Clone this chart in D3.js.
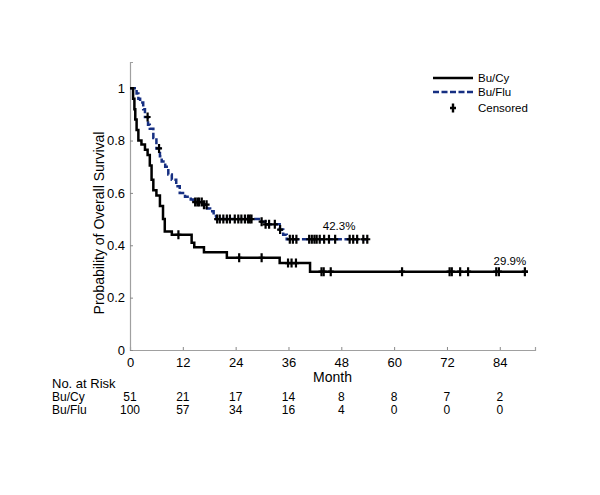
<!DOCTYPE html>
<html>
<head>
<meta charset="utf-8">
<script src="https://cdnjs.cloudflare.com/ajax/libs/d3/7.8.5/d3.min.js"></script>
<style>
  body { margin: 0; background: #fff; }
  #chart { width: 600px; height: 495px; }
  text { font-family: "Liberation Sans", Arial, sans-serif; fill: #000; }
</style>
</head>
<body>
<div id="chart"></div>
<script>
// Bu/Cy step curve (month, survival after the step)
const cyTimes = [0, 0.7, 1.0, 1.2, 1.5, 1.9, 2.6, 3.4, 4.0, 4.5, 4.9, 5.3, 6.0, 6.8, 7.5, 7.9, 9.5, 14.0, 14.6, 16.8, 22.0, 34.0, 40.9];
const cySurv  = [1.0, 0.96, 0.92, 0.88, 0.84, 0.80, 0.785, 0.765, 0.745, 0.705, 0.65, 0.61, 0.59, 0.55, 0.50, 0.453, 0.44, 0.41, 0.392, 0.373, 0.352, 0.332, 0.299];
const cyEnd = 90.4;
const cyCensor = [11.0, 24.8, 29.9, 35.9, 36.7, 37.7, 43.5, 44.0, 45.6, 61.8, 72.6, 73.1, 75.0, 76.8, 83.2, 83.8, 89.7];

// Bu/Flu step curve
const fluTimes = [0, 1.5, 1.9, 2.3, 3.0, 3.4, 4.1, 4.5, 5.3, 6.0, 6.8, 7.2, 8.0, 8.7, 9.5, 10.5, 11.3, 12.5, 13.8, 14.3, 16.5, 17.5, 18.2, 19.0, 19.6, 29.3, 30.8, 34.0, 34.8, 35.6];
const fluSurv  = [1.0, 0.98, 0.96, 0.945, 0.92, 0.89, 0.86, 0.845, 0.81, 0.77, 0.74, 0.72, 0.70, 0.67, 0.65, 0.625, 0.60, 0.585, 0.575, 0.565, 0.555, 0.54, 0.53, 0.512, 0.50, 0.49, 0.48, 0.46, 0.44, 0.423];
const fluEnd = 54.1;
const fluCensor = [4.0, 6.6, 14.8, 15.3, 15.7, 16.3, 16.8, 17.4, 19.8, 20.4, 21.2, 22.0, 22.7, 23.8, 24.6, 25.3, 26.1, 26.8, 27.2, 27.6, 29.9, 30.8, 31.6, 32.9, 34.1, 36.3, 37.0, 37.8, 40.7, 41.3, 41.9, 42.4, 43.1, 44.1, 45.2, 46.6, 49.9, 50.7, 51.6, 53.0, 53.9];

// number at risk table
const riskMonths = [0, 12, 24, 36, 48, 60, 72, 84];
const cyRisk  = [51, 21, 17, 14, 8, 8, 7, 2];
const fluRisk = [100, 57, 34, 16, 4, 0, 0, 0];

const yTicks = [0, 0.2, 0.4, 0.6, 0.8, 1];

const margin = { left: 130, top: 62, right: 65, bottom: 145 };
const width = 600, height = 495;
const innerW = width - margin.left - margin.right;   // 405
const innerH = height - margin.top - margin.bottom;  // 288

const svg = d3.select("#chart").append("svg")
  .attr("width", width).attr("height", height);
svg.append("rect").attr("width", width).attr("height", height).attr("fill", "#fff");

const g = svg.append("g").attr("transform", `translate(${margin.left},${margin.top})`);

const x = d3.scaleLinear().domain([0, 92]).range([0, innerW]);
const y = d3.scaleLinear().domain([0, 1.1]).range([innerH, 0]);

// axes
const xAxis = d3.axisBottom(x).tickValues(riskMonths).tickSize(-3).tickPadding(6);
const yAxis = d3.axisLeft(y).tickValues(yTicks).tickSize(-3).tickPadding(5).tickFormat(d => String(d));

const gx = g.append("g").attr("transform", `translate(0,${innerH})`).call(xAxis);
const gy = g.append("g").call(yAxis);
[gx, gy].forEach(a => {
  a.select(".domain").attr("stroke", "#a0a0a0").attr("stroke-width", 1.2);
  a.selectAll(".tick line").attr("stroke", "#888");
  a.selectAll(".tick text").attr("font-size", 13).attr("fill", "#000")
    .style("font-family", '"Liberation Sans", Arial, sans-serif');
});
gx.selectAll(".tick text").attr("dy", "0.85em");

// axis titles
g.append("text")
  .attr("x", x(46)).attr("y", innerH + 32)
  .attr("text-anchor", "middle").attr("font-size", 14)
  .text("Month");
g.append("text")
  .attr("transform", `translate(${99 - margin.left},${223 - margin.top}) rotate(-90)`)
  .attr("text-anchor", "middle").attr("dy", "0.35em").attr("font-size", 14)
  .text("Probability of Overall Survival");

// curves
function stepPoints(times, surv, end) {
  const pts = times.map((t, i) => [t, surv[i]]);
  pts.push([end, surv[surv.length - 1]]);
  return pts;
}
function survAt(times, surv, t) {
  let s = surv[0];
  for (let i = 0; i < times.length; i++) if (times[i] <= t) s = surv[i];
  return s;
}
const line = d3.line().x(d => x(d[0])).y(d => y(d[1])).curve(d3.curveStepAfter);

g.append("path")
  .datum(stepPoints(fluTimes, fluSurv, fluEnd))
  .attr("d", line).attr("fill", "none")
  .attr("stroke", "#162f82").attr("stroke-width", 2.5)
  .attr("stroke-dasharray", "6,2.5");

g.append("path")
  .datum(stepPoints(cyTimes, cySurv, cyEnd))
  .attr("d", line).attr("fill", "none")
  .attr("stroke", "#000").attr("stroke-width", 2.5);

const plus = "M0,-4.5V4.5M-3,0H3";
function drawCensors(list, times, surv) {
  g.append("g").selectAll("path")
    .data(list)
    .join("path")
    .attr("transform", d => `translate(${x(d)},${y(survAt(times, surv, d))})`)
    .attr("d", plus)
    .attr("stroke", "#000").attr("stroke-width", 2.2).attr("fill", "none");
}
drawCensors(fluCensor, fluTimes, fluSurv);
drawCensors(cyCensor, cyTimes, cySurv);

// end labels
g.append("text").attr("x", x(47.5)).attr("y", y(0.457)).attr("text-anchor", "middle")
  .attr("font-size", 11.5).text("42.3%");
g.append("text").attr("x", x(86.3)).attr("y", y(0.325)).attr("text-anchor", "middle")
  .attr("font-size", 11.5).text("29.9%");

// legend
const leg = svg.append("g").attr("transform", "translate(433,78)");
const legItems = [
  { name: "Bu/Cy", stroke: "#000", dash: null },
  { name: "Bu/Flu", stroke: "#162f82", dash: "6,2.5" }
];
legItems.forEach((d, i) => {
  leg.append("line").attr("x1", 0).attr("x2", 40).attr("y1", i * 14).attr("y2", i * 14)
    .attr("stroke", d.stroke).attr("stroke-width", 2.5)
    .attr("stroke-dasharray", d.dash);
  leg.append("text").attr("x", 45).attr("y", i * 14).attr("dy", "0.35em")
    .attr("font-size", 11.5).text(d.name);
});
leg.append("path").attr("transform", "translate(20,30)").attr("d", plus)
  .attr("stroke", "#000").attr("stroke-width", 2.4);
leg.append("text").attr("x", 45).attr("y", 30).attr("dy", "0.35em")
  .attr("font-size", 11.5).text("Censored");

// number at risk
const risk = svg.append("g");
risk.append("text").attr("x", 52).attr("y", 388).attr("font-size", 13).text("No. at Risk");
const rows = [
  { name: "Bu/Cy", vals: cyRisk, y: 401 },
  { name: "Bu/Flu", vals: fluRisk, y: 414 }
];
rows.forEach(r => {
  risk.append("text").attr("x", 52).attr("y", r.y).attr("font-size", 12).text(r.name);
  risk.append("g").selectAll("text")
    .data(r.vals)
    .join("text")
    .attr("x", (d, i) => margin.left + x(riskMonths[i]))
    .attr("y", r.y)
    .attr("text-anchor", "middle")
    .attr("font-size", 12)
    .text(d => d);
});
</script>
</body>
</html>
